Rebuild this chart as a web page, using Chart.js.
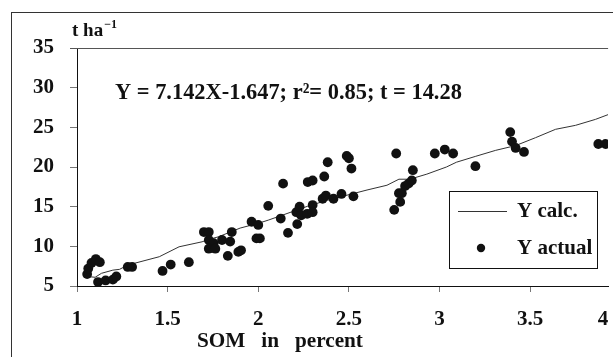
<!DOCTYPE html>
<html>
<head>
<meta charset="utf-8">
<script src="https://cdn.jsdelivr.net/npm/chart.js@4"></script>
<style>
html,body{margin:0;padding:0;background:#fff;overflow:hidden;}
#wrap{width:613px;height:357px;position:relative;}
</style>
</head>
<body>
<div id="wrap"><canvas id="c" width="613" height="357"></canvas></div>
<script>
// ---- data ----
const actualX = [1.056,1.062,1.08,1.104,1.126,1.116,1.158,1.198,1.217,1.28,1.304,1.472,1.517,1.617,
  1.70,1.727,1.854,1.727,1.754,1.80,1.845,1.727,1.763,1.832,1.89,1.905,1.963,2.0,1.99,2.009,
  2.055,2.124,2.137,2.164,2.215,2.21,2.228,2.237,2.273,2.30,2.27,2.30,2.30,2.364,2.355,2.373,
  2.383,2.415,2.459,2.488,2.50,2.514,2.525,2.761,2.75,2.783,2.776,2.792,2.81,2.829,2.847,2.853,
  2.974,3.029,3.075,3.198,3.39,3.40,3.42,3.466,3.876,3.916];
const actualY = [6.5,7.2,7.9,8.4,8.0,5.5,5.7,5.8,6.2,7.4,7.4,6.9,7.7,8.0,
  11.8,11.8,11.8,10.8,10.4,10.8,10.6,9.7,9.7,8.8,9.3,9.5,13.1,12.7,11.0,11.0,
  15.1,13.5,17.9,11.7,12.8,14.3,15.0,13.9,18.1,18.3,14.1,15.2,14.3,18.8,16.0,16.4,
  20.6,16.0,16.6,21.4,21.1,19.8,16.3,21.7,14.6,15.6,16.7,16.7,17.6,17.9,18.3,19.6,
  21.7,22.2,21.7,20.1,24.4,23.2,22.4,21.9,22.9,22.9];
const calcX = [1.053,1.10,1.135,1.198,1.235,1.28,1.454,1.563,1.69,1.727,1.78,1.90,2.0,2.055,2.164,
  2.273,2.38,2.49,2.60,2.71,2.776,2.836,2.93,3.038,3.093,3.2,3.31,3.42,3.53,3.64,3.75,3.86,3.93];
const calcY = [6.2,6.1,6.6,7.0,7.1,7.64,8.69,9.94,10.57,10.87,11.2,12.3,12.9,13.3,14.18,
  15.06,15.8,16.45,17.1,17.7,18.46,18.46,19.1,20.0,20.6,21.35,22.1,22.7,23.7,24.75,25.25,26.0,26.6];
const xTicks = [1, 1.5, 2, 2.5, 3, 3.5];
const xLastLabel = "4";
const yTitle = "t ha";
const ySup = "\u22121";
const equation = "Y = 7.142X-1.647; r\u00B2= 0.85; t = 14.28";
const xTitle = "SOM   in   percent";
const seriesNames = ["Y calc.", "Y actual"];

const FONT = "'Liberation Serif','Times New Roman',serif";
const F = (s) => "bold " + s + "px " + FONT;

function fitText(ctx, text, x, y, width, base) {
  ctx.font = F(base);
  const m = ctx.measureText(text).width;
  ctx.font = F(base * width / m);
  ctx.fillText(text, x, y);
}

const decor = {
  id: 'decor',
  beforeDraw(chart) {
    const ctx = chart.ctx;
    ctx.save();
    ctx.fillStyle = '#fff';
    ctx.fillRect(0, 0, chart.width, chart.height);
    ctx.strokeStyle = '#333';
    ctx.lineWidth = 1;
    ctx.strokeRect(11.5, 12.5, 800, 600);
    ctx.restore();
  },
  afterDraw(chart) {
    const ctx = chart.ctx, a = chart.chartArea;
    ctx.save();
    ctx.strokeStyle = '#555';
    ctx.lineWidth = 1;
    ctx.beginPath();
    ctx.moveTo(a.left - 7, a.top + 0.5);
    ctx.lineTo(a.right, a.top + 0.5);
    ctx.stroke();
    ctx.fillStyle = '#111';
    ctx.font = F(19);
    ctx.textBaseline = 'alphabetic';
    ctx.textAlign = 'left';
    ctx.fillText(yTitle, 72, 36);
    const w = ctx.measureText(yTitle).width;
    ctx.font = F(12);
    ctx.fillText(ySup, 72 + w + 1, 28);
    ctx.textBaseline = 'middle';
    fitText(ctx, equation, 115, 93, 347, 21);
    fitText(ctx, xTitle, 197, 342, 166, 21);
    ctx.font = F(21);
    ctx.textAlign = 'center';
    ctx.fillText(xLastLabel, 603, 320);
    // legend
    const lx = 449, ly = 191, lw = 148, lh = 77;
    ctx.fillStyle = '#fff';
    ctx.fillRect(lx, ly, lw, lh);
    ctx.strokeStyle = '#111';
    ctx.strokeRect(lx + 0.5, ly + 0.5, lw, lh);
    ctx.strokeStyle = '#333';
    ctx.beginPath();
    ctx.moveTo(458, 211.5); ctx.lineTo(507, 211.5); ctx.stroke();
    ctx.fillStyle = '#111';
    ctx.beginPath(); ctx.arc(481, 248, 4.2, 0, Math.PI * 2); ctx.fill();
    ctx.textAlign = 'left';
    ctx.font = F(21);
    const ds = chart.data.datasets;
    ctx.fillText(ds[0].label, 517, 212);
    ctx.fillText(ds[1].label, 517, 249);
    ctx.restore();
  }
};

new Chart(document.getElementById('c'), {
  data: {
    datasets: [
      { type: 'line', label: seriesNames[0],
        data: calcX.map((x, i) => ({ x, y: calcY[i] })),
        borderColor: '#333', borderWidth: 1, pointRadius: 0, tension: 0, fill: false, order: 2 },
      { type: 'scatter', label: seriesNames[1],
        data: actualX.map((x, i) => ({ x, y: actualY[i] })),
        backgroundColor: '#111', borderWidth: 0, pointRadius: 4.9, pointStyle: 'circle', order: 1 }
    ]
  },
  options: {
    responsive: false,
    animation: false,
    layout: { padding: { top: 48, left: 0, right: 0, bottom: 0 } },
    plugins: { legend: { display: false }, tooltip: { enabled: false } },
    scales: {
      x: {
        type: 'linear', min: 1, max: 3.93,
        afterBuildTicks: (s) => { s.ticks = xTicks.map(v => ({ value: v })); },
        afterFit: (s) => { s.height = 71; },
        grid: { display: true, drawOnChartArea: false, tickLength: 6, color: '#777' },
        border: { display: true, color: '#111', width: 1 },
        ticks: { color: '#111', font: { family: FONT, size: 21, weight: 'bold' }, padding: 15,
          maxRotation: 0, autoSkip: false, callback: (v) => String(v) }
      },
      y: {
        type: 'linear', min: 5, max: 35,
        afterFit: (s) => { s.width = 77; },
        grid: { display: true, drawOnChartArea: false, tickLength: 7, color: '#777' },
        border: { display: true, color: '#111', width: 1 },
        ticks: { color: '#111', stepSize: 5, font: { family: FONT, size: 21, weight: 'bold' }, padding: 16 }
      }
    }
  },
  plugins: [decor]
});
</script>
</body>
</html>
